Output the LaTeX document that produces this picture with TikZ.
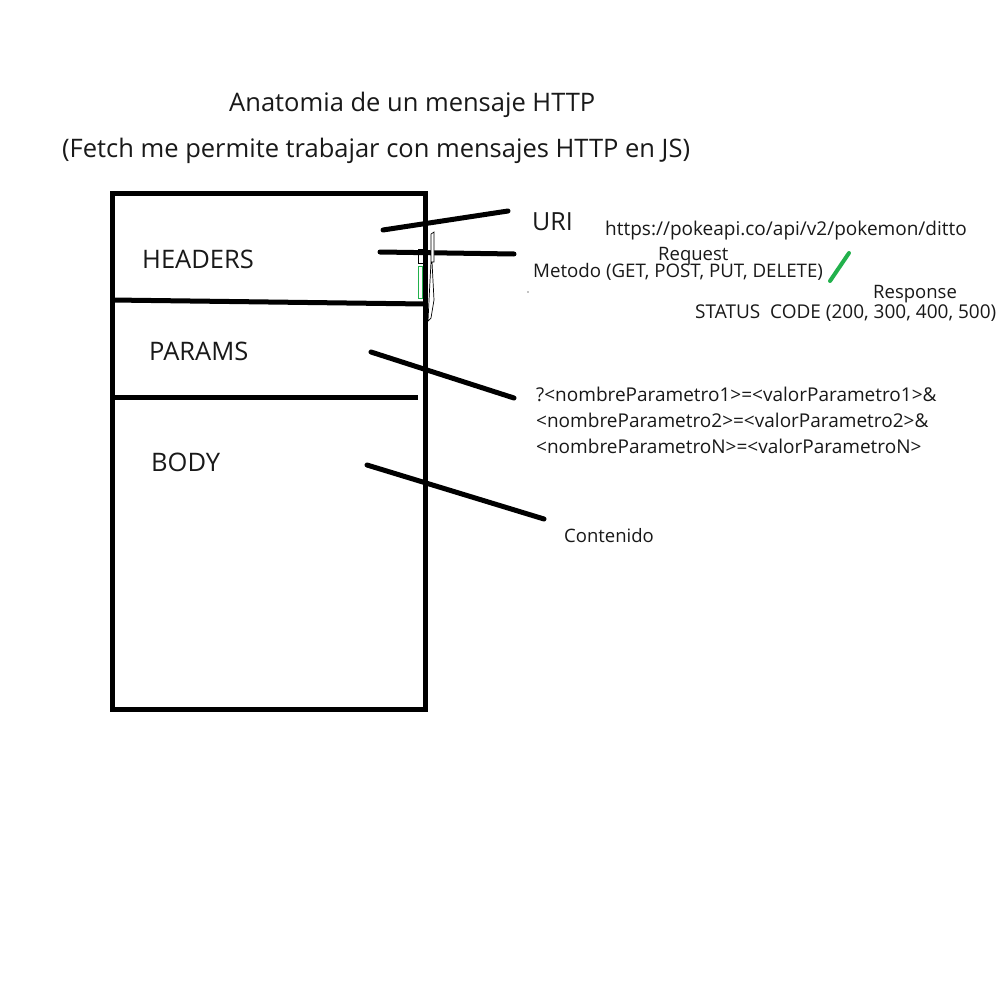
\documentclass[tikz,border=0pt]{standalone}
\usepackage{fontspec}
\setmainfont{Open Sans}
\begin{document}
\begin{tikzpicture}[x=1pt,y=-1pt,
  thick line/.style={line width=5pt,line cap=round},
  lbl/.style={anchor=base west,inner sep=0pt,text=black!90},
  big/.style={font=\fontsize{25.5}{30}\selectfont},
  mid/.style={font=\fontsize{19}{23}\selectfont},
  sml/.style={font=\fontsize{18.5}{22}\selectfont}]
\useasboundingbox (0,0) rectangle (1000,1000);
\fill[white] (0,0) rectangle (1000,1000);
% title
\node[lbl,big] (t1) at (229,112) {Anatomia de un mensaje HTTP};
\node[lbl,big] (t2) at (62,158) {(Fetch me permite trabajar con mensajes HTTP en JS)};
% box
\draw[line width=5pt] (112,194) rectangle (425,709);
\coordinate (s1l) at (112,300); \coordinate (s1r) at (425,304);
\coordinate (s2l) at (112,397); \coordinate (s2r) at (418,397);
\draw[thick line,line cap=butt] (s1l) -- (s1r);
\draw[thick line,line cap=butt] (s2l) -- (s2r);
\node[lbl,big] (hd) at (142,268) {HEADERS};
\node[lbl,big] (pr) at (149,360) {PARAMS};
\node[lbl,big] (bd) at (151,471) {BODY};
% right texts
\node[lbl,font=\fontsize{25}{30}\selectfont] (uri) at (532,231) {URI};
\node[lbl,mid] (url) at (605,236) {https://pokeapi.co/api/v2/pokemon/ditto};
\node[lbl,sml] (req) at (658,260) {Request};
\node[lbl,font=\fontsize{18.7}{22}\selectfont] (met) at (533,277) {Metodo (GET, POST, PUT, DELETE)};
\node[lbl,sml] (res) at (873,298) {Response};
\node[lbl,mid] (st) at (695,318) {STATUS\ \ CODE (200, 300, 400, 500)};
\node[lbl,mid] (p1) at (536,401) {?<nombreParametro1>=<valorParametro1>\&};
\node[lbl,mid] (p2) at (536,427) {<nombreParametro2>=<valorParametro2>\&};
\node[lbl,mid] (p3) at (536,453) {<nombreParametroN>=<valorParametroN>};
\node[lbl,sml] (ct) at (564,542) {Contenido};
% connectors
\coordinate (a1) at (383,230); \coordinate (a2) at (508,211);
\coordinate (b1) at (380,252); \coordinate (b2) at (514,254);
\coordinate (c1) at (371,352); \coordinate (c2) at (514,398);
\coordinate (d1) at (367,465); \coordinate (d2) at (544,519);
\draw[thick line] (a1) -- (a2);
\draw[thick line] (b1) -- (b2);
\draw[thick line] (c1) -- (c2);
\draw[thick line] (d1) -- (d2);
% green slash
\coordinate (g1) at (830,281); \coordinate (g2) at (849,253);
\draw[line width=4pt,line cap=round,draw={rgb,255:red,34;green,177;blue,76}] (g1) -- (g2);
% small artifacts
\fill[black] (528,292) circle (0.6);
\draw[line width=0.7pt,fill=white] (431,234) -- (434,232) -- (434,262) -- (432,262) -- (434,300) -- (431,318) -- (428,321) -- (429,300) -- (431,262) -- cycle;
\draw[line width=0.7pt] (418.5,249.5) rectangle (423.5,263.5);
\draw[line width=0.8pt,draw={rgb,255:red,34;green,177;blue,76}] (418.5,266.5) rectangle (422.5,298.5);
\end{tikzpicture}
\end{document}
